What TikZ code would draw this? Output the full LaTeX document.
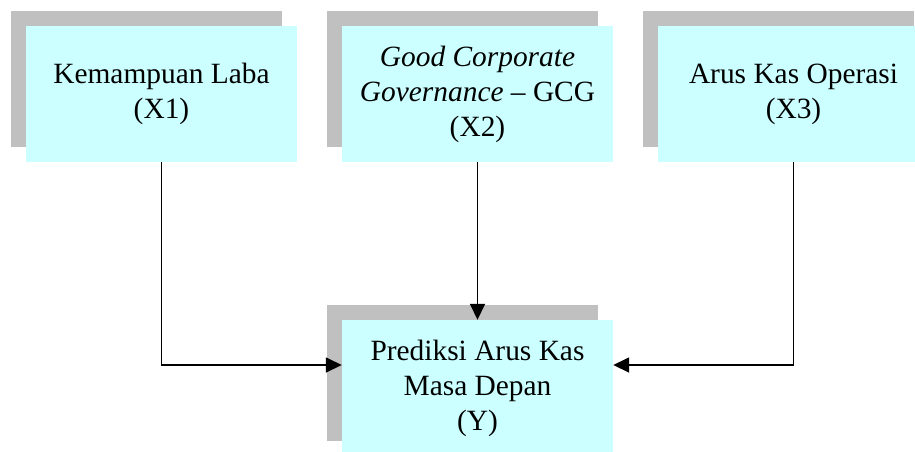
\documentclass[tikz,border=0pt]{standalone}
\usepackage{fontspec}
\setmainfont{Liberation Serif}
\usetikzlibrary{arrows.meta, shadows}
\definecolor{boxcyan}{RGB}{204,255,255}
\definecolor{shadowgray}{RGB}{192,192,192}

\begin{document}
\begin{tikzpicture}[x=1pt, y=-1pt,
    varbox/.style={fill=boxcyan, minimum width=271pt, minimum height=136pt,
      inner sep=0pt, align=center, font=\fontsize{29.4}{35}\selectfont,
      general shadow={fill=shadowgray, shadow xshift=-15pt, shadow yshift=15pt}},
    panah/.style={-{Triangle[length=16pt, width=15pt]}, line width=1.6pt}]
  % kerangka pemikiran
    \useasboundingbox (0,0) rectangle (915,451);
    \clip (0,0) rectangle (915,451);
    \node[varbox] (x1) at (161.5, 94) {Kemampuan Laba\\(X1)};
    \node[varbox] (x2) at (477.5, 94) {\textit{Good Corporate}\\\textit{Governance} -- GCG\\(X2)};
    \node[varbox] (x3) at (793.5, 94) {Arus Kas Operasi\\(X3)};
    \node[varbox] (y) at (477.5, 388) {Prediksi Arus Kas\\Masa Depan\\(Y)};
    \draw[panah] (x1.south) |- ([yshift=23pt]y.west);
    \draw[panah] (x2.south) -- (y.north);
    \draw[panah] (x3.south) |- ([yshift=23pt]y.east);
  \end{tikzpicture}
\end{document}
